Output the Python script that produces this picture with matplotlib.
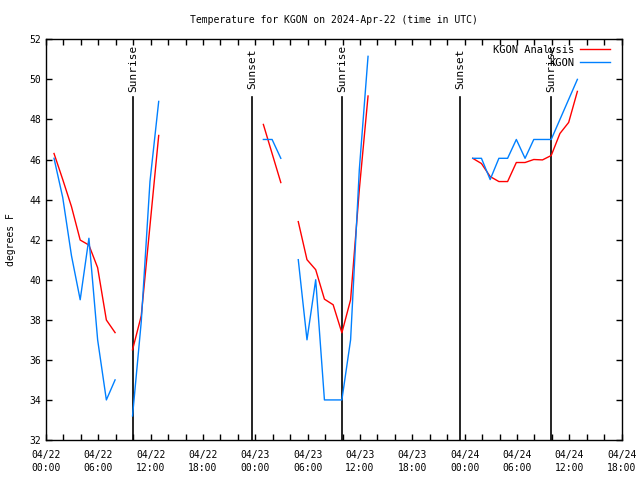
from matplotlib import pyplot as plt
import numpy as np

nan = np.nan

# hourly samples, hours after 04/22 00:00 UTC
hours = np.arange(61) + 0.92

analysis = [46.3, 45.0, 43.65, 41.98, 41.73, 40.6, 37.99, 37.36,
            nan, 36.5, 38.2, 42.7, 47.2,
            nan, nan, nan, nan, nan, nan, nan, nan, nan, nan, nan,
            47.75, 46.3, 44.85, nan,
            42.9, 41.0, 40.5, 39.03, 38.75, 37.35, 39.0, 44.5, 49.17,
            nan, nan, nan, nan, nan, nan, nan, nan, nan, nan, nan,
            46.06, 45.8, 45.15, 44.9, 44.9, 45.85, 45.85, 46.0, 45.98, 46.2,
            47.3, 47.85, 49.4]

observed = [46.06, 44.1, 41.2, 39.0, 42.07, 37.0, 34.0, 35.0,
            nan, 33.2, 37.9, 44.9, 48.9,
            nan, nan, nan, nan, nan, nan, nan, nan, nan, nan, nan,
            47.0, 47.0, 46.06, nan,
            41.0, 37.0, 40.0, 34.0, 34.0, 34.0, 37.0, 45.5, 51.15,
            nan, nan, nan, nan, nan, nan, nan, nan, nan, nan, nan,
            46.06, 46.06, 45.0, 46.06, 46.06, 47.0, 46.06, 47.0, 47.0, 47.0,
            48.0, 49.0, 50.0]

sun_hours = [10.0, 23.6, 33.95, 47.5, 57.9]
sun_labels = ['Sunrise', 'Sunset', 'Sunrise', 'Sunset', 'Sunrise']

tick_hours = [0, 6, 12, 18, 24, 30, 36, 42, 48, 54, 60, 66]
tick_labels = ['04/22\n00:00', '04/22\n06:00', '04/22\n12:00', '04/22\n18:00',
               '04/23\n00:00', '04/23\n06:00', '04/23\n12:00', '04/23\n18:00',
               '04/24\n00:00', '04/24\n06:00', '04/24\n12:00', '04/24\n18:00']

plt.rcParams['font.family'] = 'DejaVu Sans Mono'

fig = plt.figure(figsize=(6.4, 4.8), dpi=100)
ax = fig.add_axes([46 / 640, 40 / 480, 575.7 / 640, 400.7 / 480])

for h, lab in zip(sun_hours, sun_labels):
    ax.plot([h, h], [32, 49.1], color='black', lw=1.2)
    ax.text(h, 50.55, lab, rotation=90, ha='center', va='center', fontsize=8)

ax.plot(hours, analysis, color='#ff0000', lw=1, label='KGON Analysis')
ax.plot(hours, observed, color='#0080ff', lw=1, label='KGON')

ax.set_xlim(0, 66)
ax.set_ylim(32, 52)
ax.set_xticks(tick_hours)
ax.set_xticklabels(tick_labels, fontsize=7, linespacing=1.45)
ax.set_xticks(np.arange(0, 67, 2), minor=True)
ax.set_yticks(np.arange(32, 53, 2))
ax.tick_params(axis='y', labelsize=7)
ax.tick_params(which='both', direction='in', top=True, right=True,
               length=4.5, width=1)
ax.tick_params(axis='x', pad=7)

ax.set_ylabel('degrees F', fontsize=7)
ax.yaxis.set_label_coords(-0.052, 0.5)
ax.set_title('Temperature for KGON on 2024-Apr-22 (time in UTC)', fontsize=7, pad=12)

leg = ax.legend(loc='upper right', bbox_to_anchor=(0.99, 1.0), fontsize=7.5,
                frameon=False, markerfirst=False, handlelength=2.9,
                borderaxespad=0.15, labelspacing=0.25, handletextpad=0.6)

for s in ax.spines.values():
    s.set_linewidth(1)

plt.savefig('out.png', dpi=100)
